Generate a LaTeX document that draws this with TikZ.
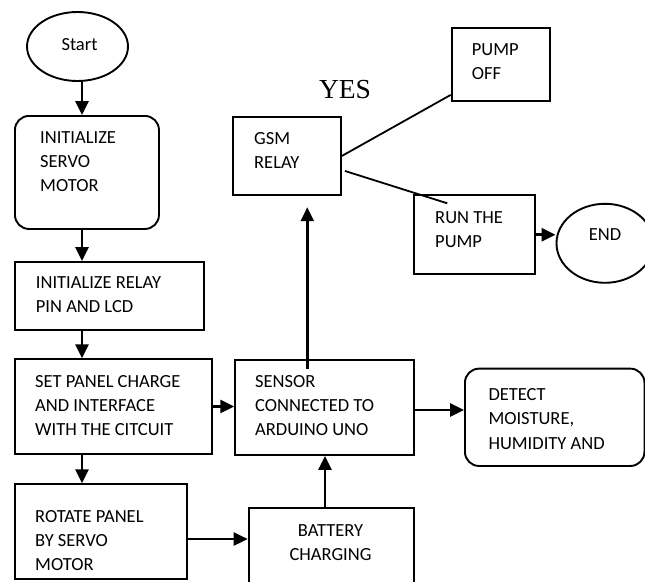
\documentclass[tikz,border=0pt]{standalone}
\usepackage{fontspec}
\setmainfont{Carlito}
\newfontfamily\yesfont{Liberation Serif}
\usetikzlibrary{arrows.meta,shapes.geometric,calc}
\begin{document}
\begin{tikzpicture}[x=1pt,y=-1pt,
  box/.style={draw, line width=1.9pt, rectangle, inner sep=0pt, anchor=north west},
  rbox/.style={box, rounded corners=14pt},
  term/.style={draw, line width=1.9pt, ellipse, inner sep=0pt},
  txt/.style={anchor=north west, inner sep=0pt, align=left, font=\fontsize{18.5}{24.3}\selectfont},
  arr/.style={-{Triangle[length=14pt,width=13pt]}, line width=2.6pt},
  ln/.style={line width=1.8pt}]
\useasboundingbox (0,0) rectangle (645,581);
\fill[white] (0,0) rectangle (645,581);
\clip (0,0) rectangle (645,581);

% shapes
\node[term, minimum width=101pt, minimum height=69pt] (start) at (77.5,46.5) {};
\node[rbox, minimum width=144pt, minimum height=113pt] (servo) at (14,115) {};
\node[box, minimum width=188.4pt, minimum height=68.3pt] (relay) at (14.3,261) {};
\node[box, minimum width=196.7pt, minimum height=94.4pt] (setp) at (14.3,358.3) {};
\node[box, minimum width=171.4pt, minimum height=95pt] (rot) at (14.3,483.3) {};
\node[box, minimum width=165.6pt, minimum height=90pt] (batt) at (247.7,507.3) {};
\node[box, minimum width=179pt, minimum height=95pt] (sens) at (234.3,359) {};
\node[rbox, minimum width=179.5pt, minimum height=97.3pt] (det) at (464,367.7) {};
\node[box, minimum width=107.7pt, minimum height=78.6pt] (gsm) at (232.3,115.7) {};
\node[box, minimum width=98.3pt, minimum height=72.7pt] (poff) at (450.7,27.3) {};
\node[box, minimum width=121pt, minimum height=79pt] (run) at (413.3,194.3) {};
\node[term, minimum width=97pt, minimum height=79pt] (endn) at (605,243.3) {};

% texts
\node[anchor=base, inner sep=0pt, font=\fontsize{18.5}{24.3}\selectfont] (starttxt) at (79.5,50) {Start};
\node[txt] (servotxt) at (40,131.3) {INITIALIZE\\SERVO\\MOTOR};
\node[txt] (relaytxt) at (35.7,276.6) {INITIALIZE RELAY\\PIN AND LCD};
\node[txt] (setptxt) at (35,375) {SET PANEL CHARGE\\AND INTERFACE\\WITH THE CITCUIT};
\node[txt] (rottxt) at (35,510) {ROTATE PANEL\\BY SERVO\\MOTOR};
\node[txt] (senstxt) at (255,375) {SENSOR\\CONNECTED TO\\ARDUINO UNO};
\node[txt] (dettxt) at (488.3,388.3) {DETECT\\MOISTURE,\\HUMIDITY AND};
\node[txt] (gsmtxt) at (254,132.3) {GSM\\RELAY};
\node[txt] (pofftxt) at (471.7,43.3) {PUMP\\OFF};
\node[txt] (runtxt) at (435,211) {RUN THE\\PUMP};
\node[txt, anchor=north, align=center] (batttxt) at (330.5,524) {BATTERY\\CHARGING};
\node[anchor=base, inner sep=0pt, font=\fontsize{18.5}{24.3}\selectfont] (endtxt) at (605,240.7) {END};
\node[anchor=base, inner sep=0pt, font=\yesfont\fontsize{27.5}{30}\selectfont] (yes) at (345,98) {YES};

% helper coordinates
\coordinate (colx) at (82,0);
\coordinate (colB) at (325,0);
\coordinate (colC) at (307.3,0);
\coordinate (rowB) at (0,539);
\coordinate (rowC) at (0,410);

% connectors
\draw[arr] (colx |- start.south) -- (colx |- servo.north);
\draw[arr] (colx |- servo.south) -- (colx |- relay.north);
\draw[arr] (colx |- relay.south) -- (colx |- setp.north);
\draw[arr] (colx |- setp.south) -- (colx |- rot.north);
\draw[arr] (setp.east) -- (sens.west |- setp.east);
\draw[arr] (rot.east |- rowB) -- (batt.west |- rowB);
\draw[arr] (colB |- batt.north) -- (colB |- sens.south);
\draw[arr] (sens.east |- rowC) -- (det.west |- rowC);
\draw[arr, shorten >=11pt] ($(colC |- sens.north)+(0,10)$) -- (colC |- gsm.south);
\draw[arr] (run.east) -- (run.east -| endn.west);
\draw[ln] (gsm.east) -- ($(poff.south west)+(0,-7)$);
\draw[ln] ($(gsm.east)+(3,15)$) -- ($(run.north west)+(34,9)$);
\end{tikzpicture}
\end{document}
